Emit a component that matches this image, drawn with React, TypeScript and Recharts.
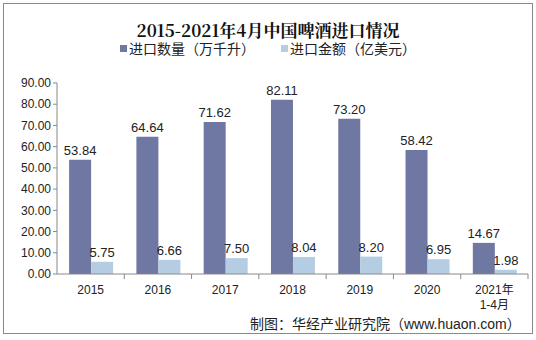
import { BarChart, Bar, XAxis, YAxis, Legend, LabelList } from 'recharts';

const years = ['2015', '2016', '2017', '2018', '2019', '2020', '2021年\n1-4月'];
const volume = [53.84, 64.64, 71.62, 82.11, 73.2, 58.42, 14.67];
const value = [5.75, 6.66, 7.5, 8.04, 8.2, 6.95, 1.98];
const yTicks = [0, 10, 20, 30, 40, 50, 60, 70, 80, 90];

const data = years.map((year, i) => ({ year, volume: volume[i], value: value[i] }));

const font = 'Arial, "Liberation Sans", "Noto Sans CJK SC", sans-serif';

// plot area is 536 - 57 (y axis) - 8 (right margin) wide
const PLOT_W = 471;

function YearTick(props: any) {
  const { x, y, payload } = props;
  const band = PLOT_W / years.length;
  const lines = String(payload.value).split('\n');
  return (
    <g>
      <line x1={x + band / 2} y1={y - 8} x2={x + band / 2} y2={y - 3} stroke="#898989" />
      {lines.map((t, i) => (
        <text key={i} x={x} y={y + 12 + i * 15} textAnchor="middle" fontSize={12} fill="#222" fontFamily={font}>
          {t}
        </text>
      ))}
    </g>
  );
}

function LegendBox(props: any) {
  const { payload } = props;
  return (
    <div style={{ display: 'flex', justifyContent: 'center', gap: 26, fontSize: 14, fontFamily: font, color: '#222' }}>
      {(payload || []).map((p: any) => (
        <span key={p.value} style={{ display: 'inline-flex', alignItems: 'center' }}>
          <span style={{ width: 7, height: 7, background: p.color, marginRight: 2, display: 'inline-block' }} />
          {p.value}
        </span>
      ))}
    </div>
  );
}

export default function App() {
  return (
    <div style={{ position: 'absolute', left: 0, top: 0, width: 536, height: 340, background: '#fff' }}>
      <div style={{ position: 'absolute', left: 3, top: 3, width: 528, height: 329, border: '1px solid #8a8a8a' }} />
      <div
        style={{
          position: 'absolute', left: 0, top: 17, width: 536, textAlign: 'center',
          fontFamily: '"Noto Serif CJK SC", "DejaVu Serif", serif', fontWeight: 'bold', fontSize: 17, color: '#111',
        }}
      >
        2015-2021年4月中国啤酒进口情况
      </div>
      <div style={{ position: 'absolute', left: 0, top: 0 }}>
        <BarChart
          width={536}
          height={340}
          data={data}
          margin={{ top: 63, right: 8, bottom: 36, left: 0 }}
          barCategoryGap="18%"
          barGap={0}
        >
          <Legend verticalAlign="top" content={<LegendBox />} wrapperStyle={{ top: 38, left: 10, width: 516 }} />
          <YAxis
            width={57}
            domain={[0, 90]}
            ticks={yTicks}
            tickFormatter={(v: number) => v.toFixed(2)}
            tick={{ fontSize: 12, fill: '#222', fontFamily: font }}
            axisLine={{ stroke: '#898989' }}
            tickLine={{ stroke: '#898989' }}
            tickSize={4}
          />
          <XAxis
            dataKey="year"
            interval={0}
            height={30}
            tick={<YearTick />}
            axisLine={{ stroke: '#898989' }}
            tickLine={false}
          />
          <Bar dataKey="volume" name="进口数量（万千升）" fill="#6e78a2" isAnimationActive={false}>
            <LabelList dataKey="volume" position="top" formatter={(v: any) => Number(v).toFixed(2)} fill="#222" fontSize={13} fontFamily={font} />
          </Bar>
          <Bar dataKey="value" name="进口金额（亿美元）" fill="#b5cde2" isAnimationActive={false}>
            <LabelList dataKey="value" position="top" formatter={(v: any) => Number(v).toFixed(2)} fill="#222" fontSize={13} fontFamily={font} />
          </Bar>
        </BarChart>
      </div>
      <div style={{ position: 'absolute', left: 250, top: 313, fontSize: 14, fontFamily: font, color: '#222' }}>
        制图：华经产业研究院（www.huaon.com）
      </div>
    </div>
  );
}
